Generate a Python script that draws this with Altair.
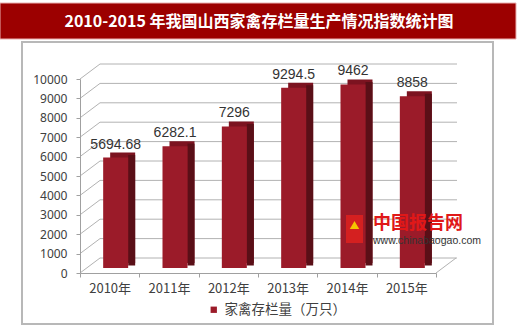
import altair as alt
import pandas as pd

# ---- data ----
years = ["2010年", "2011年", "2012年", "2013年", "2014年", "2015年"]
values = [5694.68, 6282.1, 7296, 9294.5, 9462, 8858]
value_labels = ["5694.68", "6282.1", "7296", "9294.5", "9462", "8858"]
y_ticks = [0, 1000, 2000, 3000, 4000, 5000, 6000, 7000, 8000, 9000, 10000]
series_name = "家禽存栏量（万只）"
title_text = "2010-2015 年我国山西家禽存栏量生产情况指数统计图"
wm_name = "中国报告网"
wm_url = "www.chinabaogao.com"

W, H = 356, 194
FRONT = "#9b1b29"
CAP = "#7c1320"
SIDE = "#5a0f17"
GRID = "#b2b2b2"

df = pd.DataFrame({"year": years, "value": values, "label": value_labels,
                   "series": [series_name] * len(years)})
grid = pd.DataFrame({"tick": y_ticks})
one = pd.DataFrame({"k": [0]})

yscale = alt.Scale(domain=[0, 10000], nice=False, zero=True)
xscale = alt.Scale(paddingInner=0, paddingOuter=0)

x_axis = alt.Axis(title=None, labelAngle=0, tickBand="extent", zindex=1,
                  domainColor="#a0a0a0", tickColor="#a0a0a0", tickSize=4,
                  labelFont="Noto Sans CJK SC", labelFontSize=13,
                  labelColor="#404040", labelPadding=5)
y_axis = alt.Axis(title=None, values=y_ticks, grid=False, zindex=1, format="d",
                  domainColor="#a0a0a0", tickColor="#a0a0a0", tickSize=4,
                  labelFont="Noto Sans", labelFontSize=12,
                  labelColor="#404040", labelPadding=9)

x_enc = alt.X("year:N", sort=years, scale=xscale, axis=x_axis)
y_enc = alt.Y("value:Q", scale=yscale, axis=y_axis)
y_tick = alt.Y("tick:Q", scale=yscale, axis=y_axis)

base_one = alt.Chart(one)

frame = base_one.mark_rect(fill="transparent", stroke="#b8b8b8", strokeWidth=2).encode(
    x=alt.value(-58), x2=alt.value(413), y=alt.value(-37), y2=alt.value(245))

title_bar = base_one.mark_rect(fill="#9c0000", stroke="#eab0b0", strokeWidth=1).encode(
    x=alt.value(-80), x2=alt.value(436), y=alt.value(-76), y2=alt.value(-40))

title = base_one.mark_text(text=title_text, font="Noto Sans CJK SC", fontSize=16,
                           fontWeight="bold", color="white", align="center",
                           baseline="middle").encode(x=alt.value(179), y=alt.value(-57))

back_grid = alt.Chart(grid).mark_rule(color=GRID, yOffset=-15, strokeWidth=1).encode(
    x=alt.value(20), x2=alt.value(377), y=y_tick)

side_grid = alt.Chart(grid).mark_rule(color=GRID, y2Offset=-15, strokeWidth=1).encode(
    x=alt.value(0), x2=alt.value(20), y=y_tick, y2=alt.Y2("tick:Q"))

floor_edge = alt.Chart(grid).transform_filter(alt.datum.tick == 0).mark_rule(
    color=GRID, y2Offset=-15, strokeWidth=1).encode(
    x=alt.value(356), x2=alt.value(376), y=y_tick, y2=alt.Y2("tick:Q"))

cap = alt.Chart(df).mark_bar(size=25, xOffset=13, yOffset=-10, y2Offset=-10,
                             color=CAP).encode(x=x_enc, y=y_enc)

side = alt.Chart(df).mark_bar(size=7, xOffset=22, yOffset=-7.5, y2Offset=-7.5,
                              color=SIDE).encode(x=x_enc, y=y_enc)

front = alt.Chart(df).mark_bar(size=25, xOffset=6, yOffset=-5, y2Offset=-5).encode(
    x=x_enc, y=y_enc,
    color=alt.Color("series:N", scale=alt.Scale(range=[FRONT]),
                    legend=alt.Legend(orient="none", legendX=127, legendY=224,
                                      title=None, symbolType="square", symbolSize=40,
                                      symbolStrokeWidth=0, padding=0,
                                      labelFont="Noto Sans CJK SC", labelFontSize=13.5,
                                      labelColor="#404040", labelOffset=4)))

labels = alt.Chart(df).mark_text(dx=6, dy=-14, baseline="alphabetic", align="center",
                                 font="Liberation Sans", fontSize=14,
                                 color="#333333").encode(
    x=x_enc, y=y_enc, text="label:N")

logo = base_one.mark_rect(fill="#d42020").encode(
    x=alt.value(266), x2=alt.value(283), y=alt.value(136), y2=alt.value(164))
logo_bird = base_one.mark_point(shape="triangle-up", filled=True, color="#f5c400",
                                size=90, opacity=1).encode(
    x=alt.value(274.5), y=alt.value(146))
wm1 = base_one.mark_text(text=wm_name, font="Noto Sans CJK SC", fontSize=18,
                         fontWeight="bold", color="#e01818", align="left",
                         baseline="middle").encode(x=alt.value(293), y=alt.value(145))
wm2 = base_one.mark_text(text=wm_url, font="Liberation Sans", fontSize=10.5,
                         color="#333333", align="left",
                         baseline="middle").encode(x=alt.value(293), y=alt.value(162))

chart = alt.layer(
    frame, title_bar, title, back_grid, side_grid, floor_edge,
    cap, side, front, labels, logo, logo_bird, wm1, wm2
).properties(
    width=W, height=H,
    autosize=alt.AutoSizeParams(type="none"),
    padding={"left": 80, "top": 79, "right": 84, "bottom": 55},
    background="white"
).configure_view(stroke=None)

chart.save("out.html", embed_options={"renderer": "svg", "actions": False})
